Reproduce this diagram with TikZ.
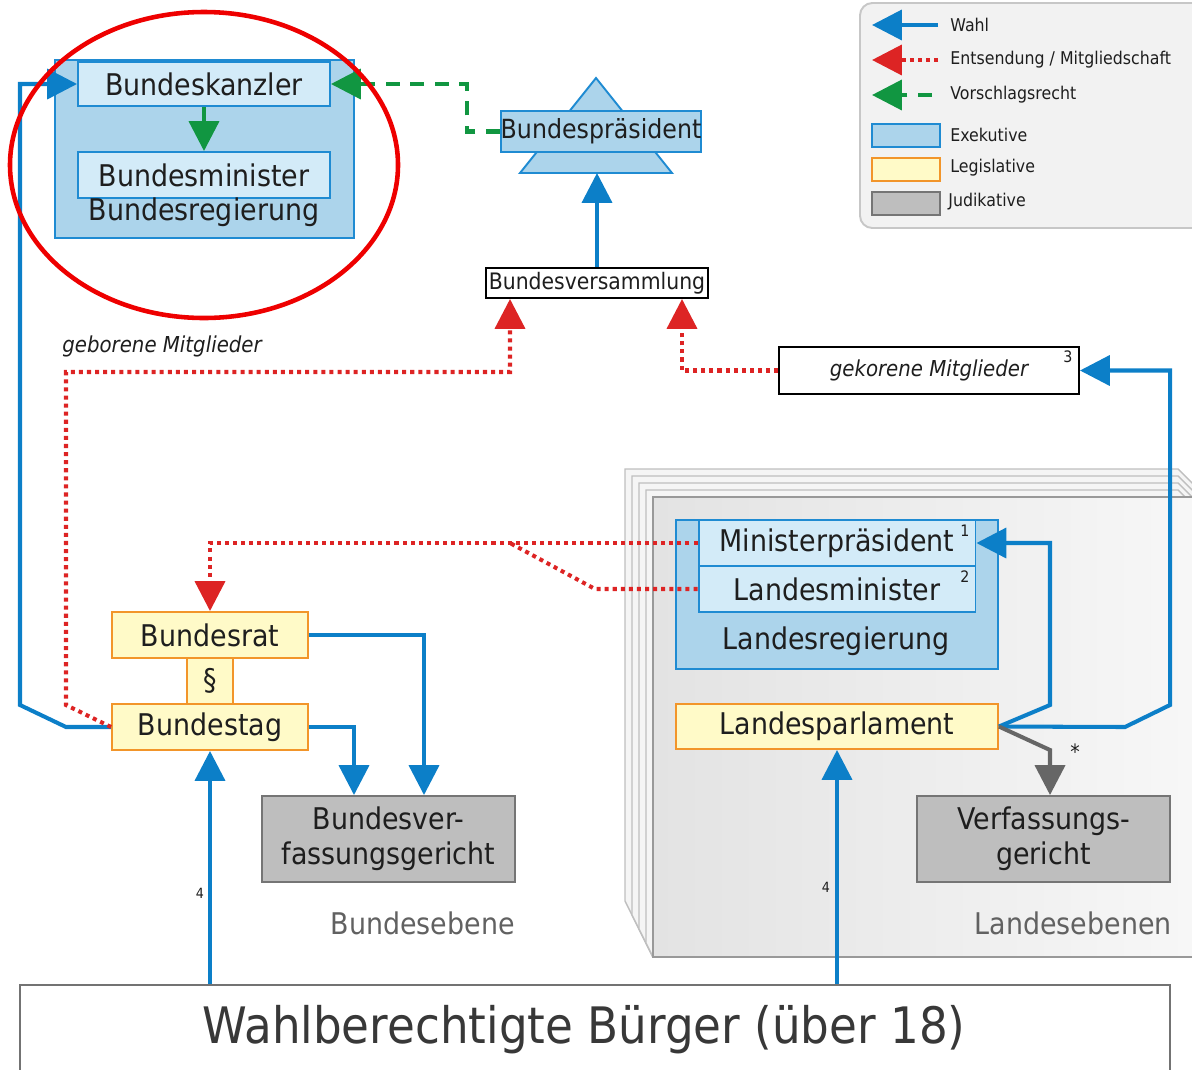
\documentclass[tikz,border=0pt]{standalone}
\usepackage{fontspec}
\setmainfont{DejaVu Sans}[FakeStretch=0.9]
\usetikzlibrary{arrows.meta}
\definecolor{wahlblau}{HTML}{0C7FC8}
\definecolor{exfill}{HTML}{ACD4EB}
\definecolor{exinner}{HTML}{D3EBF8}
\definecolor{exrand}{HTML}{1F8BD2}
\definecolor{legfill}{HTML}{FFFAC8}
\definecolor{legrand}{HTML}{F2952A}
\definecolor{judfill}{HTML}{BEBEBE}
\definecolor{judrand}{HTML}{757575}
\definecolor{entsrot}{HTML}{DD2424}
\definecolor{vorgruen}{HTML}{119641}
\definecolor{textgrau}{HTML}{1E1E1E}
\definecolor{kreisrot}{HTML}{EE0000}
\begin{document}
\begin{tikzpicture}[x=0.02cm, y=-0.02cm]
            \tikzstyle{every node}=[inner sep=0pt, font=\fontsize{17}{20}\selectfont, text=textgrau]
            \tikzstyle{exek}=[draw=exrand, fill=exfill, line width=1.1pt]
            \tikzstyle{exin}=[draw=exrand, fill=exinner, line width=1.1pt]
            \tikzstyle{legis}=[draw=legrand, fill=legfill, line width=1.1pt]
            \tikzstyle{judik}=[draw=judrand, fill=judfill, line width=1.1pt, align=center]
            \tikzstyle{weiss}=[draw=black, fill=white, line width=1.1pt]
            \tikzstyle{pfeil}=[-{Triangle[length=17pt, width=17pt]}]
            \tikzstyle{wahl}=[pfeil, wahlblau, line width=2.3pt]
            \tikzstyle{ents}=[pfeil, entsrot, line width=2.3pt, dash pattern=on 2.3pt off 2.3pt]
            \tikzstyle{vorschlag}=[pfeil, vorgruen, line width=2.3pt, dash pattern=on 8pt off 6pt]
            \tikzstyle{ebene}=[text=black!62]
            \tikzstyle{fn}=[font=\fontsize{9}{10}\selectfont]
            \tikzstyle{leg}=[anchor=west, font=\fontsize{10}{12}\selectfont]

            \useasboundingbox (0,0) rectangle (1192,1069);

            \foreach \d in {28,21,14,7}
              \draw[fill=black!4, draw=black!25, line width=0.8pt] (653-\d,497-\d) -- (1178,497-\d) -- (1178+\d,497) -- (1200,497) -- (1200,957) -- (653,957) -- (653-\d,957-2*\d) -- cycle;
            \shade[left color=black!11, right color=black!3] (653,497) rectangle (1200,957);
            \draw[black!40, line width=0.8pt] (653,497) rectangle (1200,957);

            \draw[rounded corners=7pt, fill=black!5, draw=black!22, line width=1.1pt] (860,3) rectangle (1205,228);
            \node[leg] (lwahl) at (950,25) {Wahl};
            \node[leg] (lents) at (950,60) {Entsendung / Mitgliedschaft};
            \node[leg] (lvor) at (950,95) {Vorschlagsrecht};
            \node[exek, minimum width=1.36cm, minimum height=0.46cm] (lex) at (906,135.5) {};
            \node[legis, minimum width=1.36cm, minimum height=0.46cm] (llg) at (906,169.5) {};
            \node[judik, minimum width=1.36cm, minimum height=0.46cm] (lju) at (906,203.5) {};
            \node[leg] at (950,135) {Exekutive};
            \node[leg] at (950,168) {Legislative};
            \node[leg] at (948,202) {Judikative};
            \draw[wahl] ([xshift=-0.24cm]lwahl.west) -- ++(-66,0);
            \draw[ents] ([xshift=-0.24cm]lents.west) -- ++(-66,0);
            \draw[vorschlag] ([xshift=-0.36cm]lvor.west) -- ++(-60,0);

            \node[exek, minimum width=5.98cm, minimum height=3.56cm] (breg) at (204.5,149) {};
            \node[exin, minimum width=5.04cm, minimum height=0.88cm] (bk) at (204,84) {Bundeskanzler};
            \node[exin, minimum width=5.04cm, minimum height=0.92cm] (bm) at (204,175) {Bundesminister};
            \node (bregt) at (204,212) {Bundesregierung};

            \draw[exek] (596,78) -- (672,173) -- (520,173) -- cycle;
            \coordinate (bpb) at (596,173);
            \node[exek, minimum width=3.92cm, minimum height=0.82cm, font=\fontsize{15}{18}\selectfont] (bp) at (601,131.5) {Bundespräsident};
            \node[weiss, minimum width=4.44cm, minimum height=0.6cm, font=\fontsize{12.9}{15}\selectfont] (bv) at (597,283) {Bundesversammlung};
            \node[weiss, minimum width=6cm, minimum height=0.94cm, font=\fontsize{12.5}{15}\selectfont\itshape] (gek) at (929,370.5) {gekorene Mitglieder};
            \node[fn] at (1068,357) {3};
            \node[anchor=west, font=\fontsize{12.5}{15}\selectfont\itshape] (geb) at (62,346) {geborene Mitglieder};

            \node[exek, minimum width=6.44cm, minimum height=2.98cm] (lreg) at (837,594.5) {};
            \node[exin, minimum width=5.54cm, minimum height=0.92cm] (mp) at (837,543) {Ministerpräsident};
            \node[exin, minimum width=5.54cm, minimum height=0.92cm] (lm) at (837,589) {Landesminister};
            \node (lregt) at (836,641) {Landesregierung};
            \node[fn] at (965,531) {1};
            \node[fn] at (965,577) {2};
            \node[legis, minimum width=6.44cm, minimum height=0.9cm] (lp) at (837,726.5) {Landesparlament};
            \node[judik, minimum width=5.06cm, minimum height=1.72cm] (vg) at (1043.5,839) {Verfassungs-\\gericht};
            \node[font=\fontsize{12}{14}\selectfont] at (1075,752) {*};
            \node[ebene, anchor=east] at (1172,923) {Landesebenen};

            \node[legis, minimum width=3.92cm, minimum height=0.92cm] (br) at (210,635) {Bundesrat};
            \node[legis, minimum width=0.92cm, minimum height=0.92cm] (par) at (210,681) {§};
            \node[legis, minimum width=3.92cm, minimum height=0.92cm] (bt) at (210,727) {Bundestag};
            \node[judik, minimum width=5.06cm, minimum height=1.72cm] (bvg) at (388.5,839) {Bundesver-\\fassungsgericht};
            \node[ebene, anchor=east] at (515,923) {Bundesebene};

            \node[draw=black!55, fill=white, line width=1.1pt, minimum width=23cm, minimum height=1.9cm] (bur) at (595,1032.5) {};
            \node[font=\fontsize{28.6}{32}\selectfont, text=black!78] (burt) at (584,1030) {Wahlberechtigte Bürger (über 18)};

            \draw[wahl] (bv.north) -- (bv.north |- bpb);
            \draw[vorschlag] (bp.west) -- ++(-33,0) |- (bk.east);
            \draw[vorschlag] (bk.south) -- (bm.north);
            \draw[wahl] (bt.west) -- (66,727) -- (20,705) |- (bk.west);

            \coordinate (g1) at (510,372);
            \coordinate (g2) at (682,0);
            \draw[ents] (bt.west) -- (66,705) |- (g1) -- (g1 |- bv.south);
            \draw[ents] (gek.west) -- (gek.west -| g2) -- (g2 |- bv.south);
            \draw[ents] (mp.west) -- (br.north |- mp.west) -- (br.north);
            \draw[ents, -] (lm.west) -- (595,589) -- (510,543);

            \coordinate (r1) at (424,0);
            \coordinate (r2) at (354,0);
            \draw[wahl] (br.east) -| (r1 |- bvg.north);
            \draw[wahl] (bt.east) -| (r2 |- bvg.north);
            \draw[wahl] (bur.north -| bt.south) -- (bt.south);
            \draw[wahl] (bur.north -| lp.south) -- (lp.south);
            \node[font=\fontsize{8}{9}\selectfont] at (200,893) {4};
            \node[font=\fontsize{8}{9}\selectfont] at (826,887) {4};

            \draw[wahl] (lp.east) -- (1050,705) |- (mp.east);
            \draw[wahl] (lp.east) -- (1125,727) -- (1170,705) |- (gek.east);
            \coordinate (s1) at (1050,750);
            \draw[wahl, black!60] (lp.east) -- (s1) -- (s1 |- vg.north);

            \draw[kreisrot, line width=2.6pt] (204,165) ellipse [x radius=194, y radius=153];
        \end{tikzpicture}
\end{document}
